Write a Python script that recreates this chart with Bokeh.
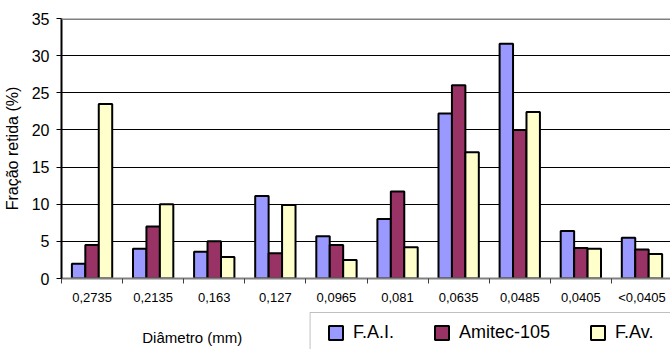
from bokeh.plotting import figure
from bokeh.layouts import column
from bokeh.models import (ColumnDataSource, FixedTicker, Legend, LegendItem, Label, Span,
                          Range1d, BoxAnnotation)
from bokeh.embed import file_html
from bokeh.resources import INLINE

categories = ["0,2735", "0,2135", "0,163", "0,127", "0,0965", "0,081", "0,0635", "0,0485", "0,0405", "<0,0405"]
fai = [2.0, 4.0, 3.6, 11.1, 5.7, 8.0, 22.2, 31.6, 6.4, 5.5]
amitec = [4.5, 7.0, 5.0, 3.4, 4.5, 11.7, 26.0, 20.0, 4.1, 3.9]
fav = [23.5, 10.0, 2.9, 9.9, 2.5, 4.2, 17.0, 22.4, 4.0, 3.3]
series_names = ["F.A.I.", "Amitec-105", "F.Av."]
series_values = [fai, amitec, fav]
colors = ["#9999FF", "#993366", "#FFFFCC"]
y_ticks = [0, 5, 10, 15, 20, 25, 30, 35]
x_title = "Diâmetro (mm)"
y_title = "Fração retida (%)"

FONT = "Liberation Sans"

# ---------------- main chart ----------------
p = figure(width=670, height=311, output_backend="svg", toolbar_location=None,
           x_range=Range1d(0, 9.967), y_range=Range1d(0, 35),
           min_border_left=60, min_border_right=0, min_border_top=18, min_border_bottom=33)
p.outline_line_color = None
p.background_fill_color = "white"
p.border_fill_color = "white"

centers = [i + 0.5 for i in range(len(categories))]
offsets = [-0.22, 0.0, 0.22]
sources = []
for vals, off, col in zip(series_values, offsets, colors):
    src = ColumnDataSource(dict(x=[c + off for c in centers], top=vals))
    sources.append(src)
    p.vbar(x="x", top="top", bottom=0, width=0.22, source=src,
           fill_color=col, line_color="black", line_width=2)

xa = p.xaxis[0]
xa.ticker = FixedTicker(ticks=centers, minor_ticks=list(range(0, 11)))
xa.major_label_overrides = {c: lab for c, lab in zip(centers, categories)}
xa.major_tick_line_color = None
xa.major_tick_out = 5
xa.major_tick_in = 0
xa.minor_tick_out = 5
xa.minor_tick_in = 0
xa.minor_tick_line_color = "#404040"
xa.axis_line_color = "#808080"
xa.axis_line_width = 2
xa.major_label_text_font = FONT
xa.major_label_text_font_size = "13px"
xa.major_label_text_color = "black"
xa.major_label_standoff = 6

ya = p.yaxis[0]
ya.ticker = FixedTicker(ticks=y_ticks)
ya.minor_tick_line_color = None
ya.major_tick_out = 5
ya.major_tick_in = 0
ya.major_tick_line_color = "black"
ya.axis_line_color = "black"
ya.axis_line_width = 2
ya.major_label_text_font = FONT
ya.major_label_text_font_size = "16px"
ya.major_label_text_color = "black"
ya.major_label_standoff = 7
ya.axis_label = y_title
ya.axis_label_text_font = FONT
ya.axis_label_text_font_size = "16px"
ya.axis_label_text_font_style = "normal"
ya.axis_label_text_color = "black"
ya.axis_label_standoff = 8

p.xgrid.grid_line_color = None
p.ygrid.ticker = FixedTicker(ticks=y_ticks[:-1])
p.ygrid.grid_line_color = "black"
p.ygrid.grid_line_width = 1

p.add_layout(Span(location=35, dimension="width", line_color="#808080", line_width=3))

# ---------------- strip below: axis title + legend (pixel coordinates) ----------------
p2 = figure(width=670, height=38, output_backend="svg", toolbar_location=None,
            x_range=Range1d(60, 670), y_range=Range1d(0, 38),
            x_axis_location=None, y_axis_location=None,
            min_border_left=60, min_border_right=0, min_border_top=0, min_border_bottom=0)
p2.outline_line_color = None
p2.xgrid.grid_line_color = None
p2.ygrid.grid_line_color = None
p2.background_fill_color = "white"
p2.border_fill_color = "white"

# legend proxies: same data, hidden in this strip, only used to draw the keys
key_renderers = []
for src, col in zip(sources, colors):
    r = p2.scatter(x="x", y="top", source=src, marker="square", size=14, visible=False,
                   fill_color=col, line_color="black", line_width=2)
    key_renderers.append(r)

p2.add_layout(Label(x=191, y=12, text=x_title, text_font=FONT, text_font_size="15px",
                    text_align="center", text_baseline="middle", text_color="black"))

p2.add_layout(BoxAnnotation(left=309, right=2000, top=37, bottom=-100,
                            fill_alpha=0, line_color="#303030", line_width=1))

legend = Legend(items=[LegendItem(label=n, renderers=[r]) for n, r in zip(series_names, key_renderers)],
                orientation="horizontal", location=(257, -1),
                label_text_font=FONT, label_text_font_size="18px", label_text_color="black",
                glyph_width=35, glyph_height=35, label_height=35,
                label_standoff=0, spacing=30,
                padding=2, border_line_color=None,
                background_fill_alpha=0.0, click_policy="none")
p2.add_layout(legend)

layout = column(p, p2, spacing=0)
open("out.html", "w").write(file_html(layout, INLINE))
